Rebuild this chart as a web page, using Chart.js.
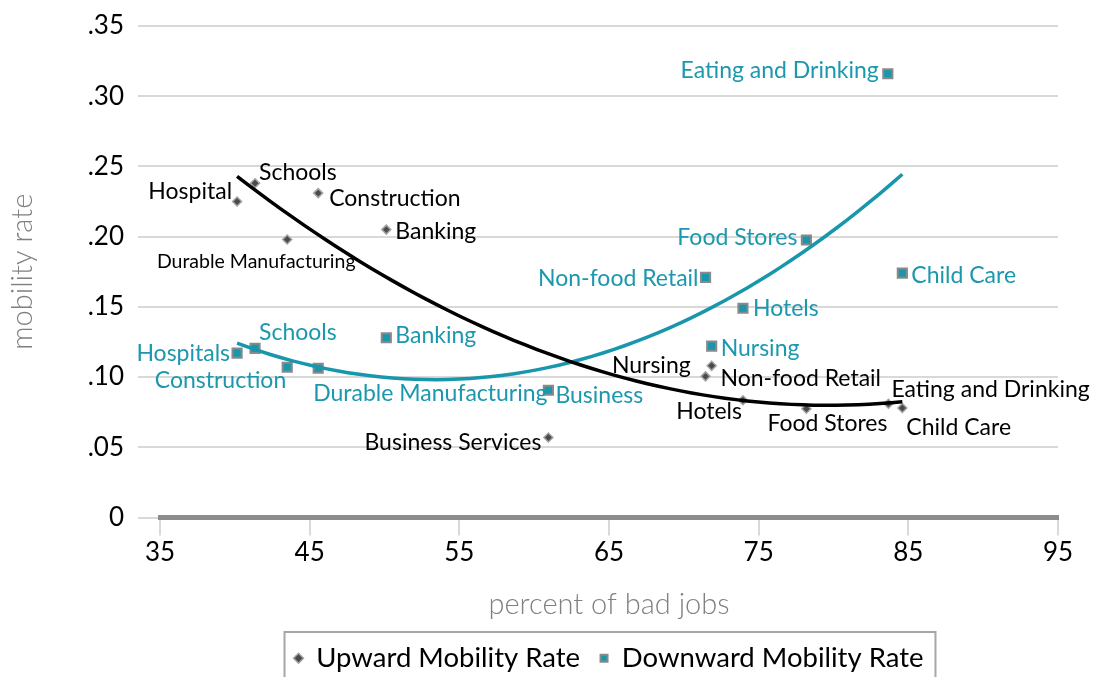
<!DOCTYPE html>
<html>
<head>
<meta charset="utf-8">
<script src="https://cdn.jsdelivr.net/npm/chart.js@4.4.0/dist/chart.umd.min.js"></script>
<style>
  html, body { margin: 0; padding: 0; background: #fff; }
  #wrap { width: 1096px; height: 677px; position: relative; }
</style>
</head>
<body>
<div id="wrap"><canvas id="chart"></canvas></div>
<script>
// industries (x = percent of bad jobs, y = mobility rate)
var upNames = ['Hospital', 'Schools', 'Construction', 'Banking', 'Durable Manufacturing', 'Business Services',
               'Nursing', 'Non-food Retail', 'Hotels', 'Food Stores', 'Eating and Drinking', 'Child Care'];
var upX = [40.15, 41.35, 45.57, 50.12, 43.5, 60.95, 71.86, 71.45, 73.95, 78.19, 83.67, 84.6];
var upY = [0.225, 0.238, 0.231, 0.205, 0.198, 0.057, 0.108, 0.1005, 0.0835, 0.0775, 0.081, 0.078];

var downNames = ['Hospitals', 'Schools', 'Construction', 'Durable Manufacturing', 'Banking', 'Business',
                 'Non-food Retail', 'Nursing', 'Hotels', 'Food Stores', 'Eating and Drinking', 'Child Care'];
var downX = [40.15, 41.35, 43.5, 45.57, 50.12, 60.95, 71.45, 71.86, 73.95, 78.19, 83.63, 84.6];
var downY = [0.117, 0.1205, 0.107, 0.1063, 0.128, 0.0906, 0.171, 0.122, 0.149, 0.1976, 0.316, 0.174];

var xTicks = [35, 45, 55, 65, 75, 85, 95];
var yTicks = [0, 0.05, 0.10, 0.15, 0.20, 0.25, 0.30, 0.35];
var yTickLabels = ['0', '.05', '.10', '.15', '.20', '.25', '.30', '.35'];

// label placement: [text align, dx, dy] from the marker
var upLabelPos = [['right', -5, -10], ['left', 4, -11], ['left', 11, 5], ['left', 9, 2], ['center', -31, 22],
                  ['right', -7, 5], ['right', -21, 0], ['left', 15, 2], ['right', -1, 11], ['center', 21, 15],
                  ['left', 3, -14], ['left', 4, 20]];
var downLabelPos = [['right', -7, 0], ['left', 4, -16], ['right', -1, 13], ['left', -5, 25], ['left', 9, -2],
                    ['left', 7, 5], ['right', -7, 1], ['left', 9, 2], ['left', 10, 0], ['right', -9, -2],
                    ['right', -9, -3], ['left', 9, 2]];

var TEAL = '#1896ab';
var TEAL_TEXT = '#1b98ad';

function toPoints(xs, ys) {
    return xs.map(function(x, i) { return {x: x, y: ys[i]}; });
}

// 2nd order polynomial trendline (least squares), like Excel's
function polyTrend(xs, ys) {
    var m = 60, S = [0, 0, 0, 0, 0], T = [0, 0, 0];
    xs.forEach(function(x, i) {
        var u = x - m, p = 1;
        for (var k = 0; k < 5; k++) {
            S[k] += p;
            if (k < 3) T[k] += p * ys[i];
            p *= u;
        }
    });
    var A = [[S[0], S[1], S[2], T[0]], [S[1], S[2], S[3], T[1]], [S[2], S[3], S[4], T[2]]];
    for (var c = 0; c < 3; c++) {
        for (var r = c + 1; r < 3; r++) {
            var f = A[r][c] / A[c][c];
            for (var j = c; j < 4; j++) A[r][j] -= f * A[c][j];
        }
    }
    var coef = [0, 0, 0];
    for (var r2 = 2; r2 >= 0; r2--) {
        var s = A[r2][3];
        for (var j2 = r2 + 1; j2 < 3; j2++) s -= A[r2][j2] * coef[j2];
        coef[r2] = s / A[r2][r2];
    }
    var lo = Math.min.apply(null, xs), hi = Math.max.apply(null, xs), pts = [];
    for (var i = 0; i <= 60; i++) {
        var x = lo + (hi - lo) * i / 60, u = x - m;
        pts.push({x: x, y: coef[0] + coef[1] * u + coef[2] * u * u});
    }
    return pts;
}

var pointLabels = {
    id: 'pointLabels',
    afterDatasetsDraw: function(chart) {
        var ctx = chart.ctx;
        var sets = [[0, upNames, upLabelPos, '#000'], [1, downNames, downLabelPos, TEAL_TEXT]];
        ctx.save();
        ctx.textBaseline = 'middle';
        sets.forEach(function(s) {
            var meta = chart.getDatasetMeta(s[0]);
            meta.data.forEach(function(pt, i) {
                var pos = s[2][i];
                var small = s[0] === 0 && s[1][i] === 'Durable Manufacturing';
                ctx.font = (small ? '19.5px' : '23px') + ' Lato';
                ctx.fillStyle = s[3];
                ctx.textAlign = pos[0];
                ctx.fillText(s[1][i], pt.x + pos[1], pt.y + pos[2]);
            });
        });
        ctx.restore();
    }
};

var legendFrame = {
    id: 'legendFrame',
    afterDraw: function(chart) {
        var lg = chart.legend, hb = lg.legendHitBoxes;
        if (!hb || !hb.length) return;
        var last = hb[hb.length - 1];
        var ctx = chart.ctx;
        ctx.save();
        ctx.strokeStyle = '#a6a6a6';
        ctx.lineWidth = 2;
        var l = hb[0].left - 10, r = last.left + last.width + 12;
        ctx.strokeRect(l, 632, r - l, 80);
        ctx.restore();
    }
};

Chart.defaults.font.family = 'Lato';

new Chart(document.getElementById('chart'), {
    type: 'scatter',
    data: {
        datasets: [
            {
                label: 'Upward Mobility Rate',
                data: toPoints(upX, upY),
                pointStyle: 'rectRot',
                pointRadius: 4.5,
                backgroundColor: '#4a4a4a',
                borderColor: '#a3a3a3',
                borderWidth: 1.5,
                order: 2
            },
            {
                label: 'Downward Mobility Rate',
                data: toPoints(downX, downY),
                pointStyle: 'rect',
                pointRadius: 6.5,
                backgroundColor: TEAL,
                borderColor: '#8a8a8a',
                borderWidth: 2,
                order: 2
            },
            {
                label: 'up trend',
                data: polyTrend(upX, upY),
                showLine: true,
                pointRadius: 0,
                borderColor: '#000',
                borderWidth: 3.5,
                order: 1
            },
            {
                label: 'down trend',
                data: polyTrend(downX, downY),
                showLine: true,
                pointRadius: 0,
                borderColor: TEAL,
                borderWidth: 3.5,
                order: 1
            }
        ]
    },
    options: {
        responsive: true,
        maintainAspectRatio: false,
        animation: false,
        layout: { padding: { left: 0, right: 38, top: 26, bottom: -5 } },
        scales: {
            x: {
                type: 'linear',
                min: 35,
                max: 95,
                afterBuildTicks: function(scale) {
                    scale.ticks = xTicks.map(function(v) { return {value: v}; });
                },
                afterFit: function(scale) { scale.height = 107; },
                grid: {
                    drawOnChartArea: false,
                    drawTicks: true,
                    tickLength: 18,
                    color: '#d9d9d9',
                    lineWidth: 2
                },
                border: { display: true, color: '#8c8c8c', width: 5 },
                ticks: { font: { size: 26 }, color: '#000', padding: 2, maxRotation: 0 },
                title: {
                    display: true,
                    text: 'percent of bad jobs',
                    color: '#808080',
                    font: { size: 29, weight: 300 },
                    padding: { top: 0, bottom: 2 }
                }
            },
            y: {
                min: 0,
                max: 0.35,
                afterBuildTicks: function(scale) {
                    scale.ticks = yTicks.map(function(v) { return {value: v}; });
                },
                afterFit: function(scale) {
                    scale.width = 160;
                    scale.paddingTop = 0;
                    scale.paddingBottom = 0;
                },
                grid: {
                    color: '#d9d9d9',
                    lineWidth: 2,
                    tickLength: 22
                },
                border: { display: false },
                ticks: {
                    font: { size: 26 },
                    color: '#000',
                    padding: 14,
                    callback: function(value, index) { return yTickLabels[index]; }
                },
                title: {
                    display: true,
                    text: 'mobility rate',
                    color: '#808080',
                    font: { size: 29, weight: 300 },
                    padding: { top: 5, bottom: 0 }
                }
            }
        },
        plugins: {
            legend: {
                position: 'bottom',
                fullSize: false,
                labels: {
                    usePointStyle: true,
                    boxHeight: 7,
                    boxWidth: 8,
                    padding: 20,
                    color: '#000',
                    font: { size: 27.5 },
                    filter: function(item) { return item.datasetIndex < 2; }
                }
            },
            tooltip: { enabled: false }
        }
    },
    plugins: [pointLabels, legendFrame]
});
</script>
</body>
</html>
